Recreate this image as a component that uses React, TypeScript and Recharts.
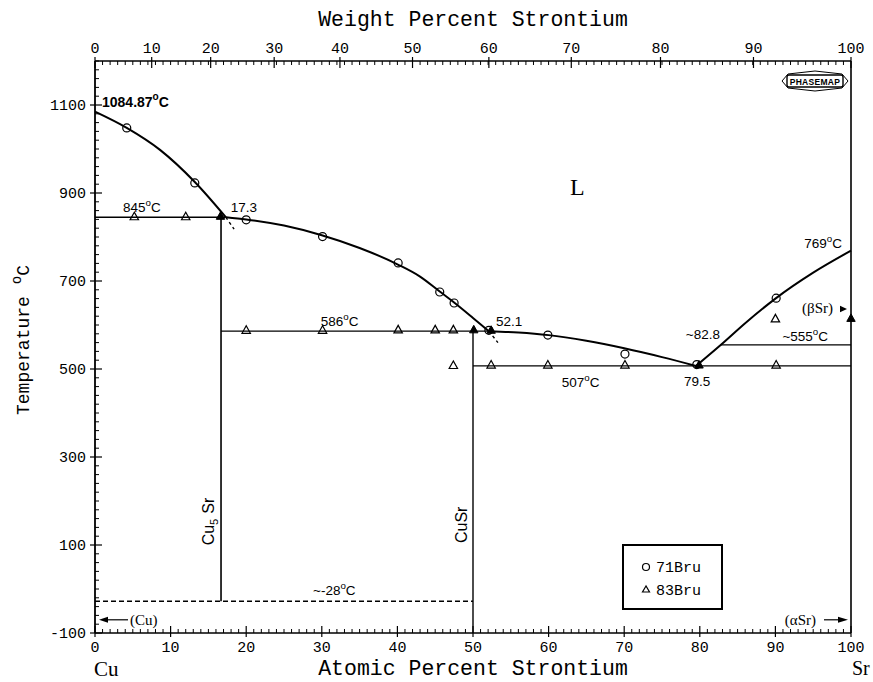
import React from "react";
import { ComposedChart, Line, Scatter, XAxis, YAxis, ReferenceDot, Legend } from "recharts";

const W = 873;
const H = 682;
// axes are 1px thick bands, so the plot area is 95..851 x 61..633
const M = { top: 60, right: 21, bottom: 48, left: 94 };

const mono = '"Liberation Mono", "DejaVu Sans Mono", monospace';
const serif = '"Liberation Serif", "DejaVu Serif", serif';
const sans = '"Liberation Sans", "DejaVu Sans", sans-serif';

// Cu-Sr system, x = at.% Sr, T = deg C
const liquidusCu = [
  { x: 0, T: 1084.87 },
  { x: 4.2, T: 1048 },
  { x: 8.6, T: 998 },
  { x: 13.2, T: 925 },
  { x: 17.3, T: 845 },
];
const liquidusMid = [
  { x: 17.3, T: 845 },
  { x: 20, T: 840 },
  { x: 25, T: 826 },
  { x: 30, T: 804 },
  { x: 35, T: 775 },
  { x: 40, T: 738 },
  { x: 43, T: 710 },
  { x: 45.6, T: 676 },
  { x: 47.5, T: 651 },
  { x: 50, T: 616 },
  { x: 52.1, T: 586 },
];
const liquidusEut = [
  { x: 52.1, T: 586 },
  { x: 56, T: 583 },
  { x: 60, T: 577 },
  { x: 65, T: 564 },
  { x: 70, T: 547 },
  { x: 75, T: 527 },
  { x: 79.5, T: 507 },
];
const liquidusSr = [
  { x: 79.5, T: 507 },
  { x: 82.8, T: 555 },
  { x: 86, T: 604 },
  { x: 90, T: 660 },
  { x: 95, T: 719 },
  { x: 100, T: 769 },
];
const iso845 = [{ x: 0, T: 845 }, { x: 17.3, T: 845 }];
const iso586 = [{ x: 16.67, T: 586 }, { x: 52.1, T: 586 }];
const iso507 = [{ x: 50, T: 507 }, { x: 100, T: 507 }];
const iso555 = [{ x: 82.8, T: 555 }, { x: 100, T: 555 }];
const isoLow = [{ x: 0, T: -28 }, { x: 50, T: -28 }];
const cu5sr = [{ x: 16.67, T: 845 }, { x: 16.67, T: -28 }];
const cusr = [{ x: 50, T: 586 }, { x: 50, T: -100 }];
const meta1 = [{ x: 17.3, T: 845 }, { x: 18.4, T: 818 }];
const meta2 = [{ x: 52.1, T: 586 }, { x: 53.3, T: 560 }];

// experimental points
const bru71 = [
  { x: 4.2, T: 1048 }, { x: 13.2, T: 923 }, { x: 20, T: 839 }, { x: 30.1, T: 801 },
  { x: 40.1, T: 741 }, { x: 45.6, T: 675 }, { x: 47.5, T: 650 }, { x: 52.1, T: 588 },
  { x: 59.9, T: 577 }, { x: 70.1, T: 534 }, { x: 79.6, T: 510 }, { x: 90.1, T: 661 },
];
const bru83 = [
  { x: 5.2, T: 846 }, { x: 12, T: 846 }, { x: 20, T: 588 }, { x: 30.1, T: 588 },
  { x: 40.1, T: 589 }, { x: 45, T: 589 }, { x: 47.4, T: 589 }, { x: 47.4, T: 508 },
  { x: 52.4, T: 509 }, { x: 59.9, T: 509 }, { x: 70.1, T: 509 }, { x: 90.1, T: 509 },
  { x: 90, T: 614 },
];
const bru83Solid = [
  { x: 16.6, T: 847 }, { x: 50.1, T: 589 }, { x: 52.4, T: 588 }, { x: 79.9, T: 509 }, { x: 100, T: 615 },
];

// axes
const atTicks = Array.from({ length: 101 }, (_, i) => i);
const wtTickPos = [0, 7.5, 15.3, 23.7, 32.4, 42, 52.1, 63, 74.8, 87.1, 100];
const wtTickLabels = ["0", "10", "20", "30", "40", "50", "60", "70", "80", "90", "100"];
const wtTicks = [...wtTickPos, ...atTicks.filter((v) => !wtTickPos.includes(v))].sort((a, b) => a - b);
const tempTicks = Array.from({ length: 66 }, (_, i) => -100 + i * 20);
const tempLabels = [-100, 100, 300, 500, 700, 900, 1100];

const ink = "#000";

function BottomTick(p: any) {
  const { x, y, payload } = p;
  const v = payload.value;
  if (v % 10 !== 0) return <line x1={x} x2={x} y1={y} y2={y - 4} stroke={ink} />;
  return (
    <g>
      <line x1={x} x2={x} y1={y + 4} y2={y - 7} stroke={ink} strokeWidth={1.2} />
      <text x={x} y={y + 19} textAnchor="middle" fontFamily={mono} fontSize={15}>{v}</text>
    </g>
  );
}

function TopTick(p: any) {
  const { x, y, payload } = p;
  const i = wtTickPos.indexOf(payload.value);
  if (i < 0) return <line x1={x} x2={x} y1={y} y2={y + 4} stroke={ink} />;
  return (
    <g>
      <line x1={x} x2={x} y1={y - 4} y2={y + 7} stroke={ink} strokeWidth={1.2} />
      <text x={x} y={y - 8} textAnchor="middle" fontFamily={mono} fontSize={15}>{wtTickLabels[i]}</text>
    </g>
  );
}

function LeftTick(p: any) {
  const { x, y, payload } = p;
  const v = payload.value;
  if (!tempLabels.includes(v)) return <line x1={x} x2={x + 4} y1={y} y2={y} stroke={ink} />;
  return (
    <g>
      <line x1={x - 5} x2={x + 7} y1={y} y2={y} stroke={ink} strokeWidth={1.2} />
      <text x={x - 9} y={y + 5} textAnchor="end" fontFamily={mono} fontSize={15}>{v}</text>
    </g>
  );
}

function RightTick(p: any) {
  const { x, y, payload } = p;
  const v = payload.value;
  if (!tempLabels.includes(v)) return <line x1={x - 4} x2={x} y1={y} y2={y} stroke={ink} />;
  return <line x1={x - 7} x2={x + 5} y1={y} y2={y} stroke={ink} strokeWidth={1.2} />;
}

function Deg({ v, fs }: { v: string; fs: number }) {
  return (
    <>
      {v}
      <tspan dy={-fs * 0.45} fontSize={fs * 0.72}>o</tspan>
      <tspan dy={fs * 0.45}>C</tspan>
    </>
  );
}

const openCircle = (p: any) => (
  <circle cx={p.cx} cy={p.cy} r={4} fill="none" stroke={ink} strokeWidth={1.2} />
);
const triPts = (cx: number, cy: number) =>
  `${cx},${cy - 4.5} ${cx - 4.2},${cy + 3} ${cx + 4.2},${cy + 3}`;
const openTri = (p: any) => (
  <polygon points={triPts(p.cx, p.cy)} fill="none" stroke={ink} strokeWidth={1.2} />
);
const solidTri = (p: any) => <polygon points={triPts(p.cx, p.cy)} fill={ink} stroke={ink} />;

const note = (id: string, x: number, T: number, draw: (cx: number, cy: number) => React.ReactElement) => (
  <ReferenceDot
    key={id}
    x={x}
    y={T}
    r={0}
    ifOverflow="visible"
    shape={(p: any) => draw(p.cx, p.cy)}
  />
);

const line = (data: any[], width = 1.3, dash?: string, curve = false, xAxisId: string | number = 0) => (
  <Line
    data={data}
    dataKey="T"
    xAxisId={xAxisId}
    type={curve ? "monotone" : "linear"}
    stroke={ink}
    strokeWidth={width}
    strokeDasharray={dash}
    dot={false}
    activeDot={false}
    isAnimationActive={false}
    legendType="none"
  />
);

export default function App() {
  const t = { fontFamily: sans, fontSize: 13.5, fill: ink } as const;
  return (
    <div style={{ position: "absolute", left: 0, top: 0, width: W, height: H, background: "#fff" }}>
      <ComposedChart width={W} height={H} margin={M}>
        <XAxis
          dataKey="x"
          type="number"
          domain={[0, 100]}
          ticks={atTicks}
          interval={0}
          height={1}
          tickSize={0}
          tickMargin={0}
          tickLine={false}
          axisLine={{ stroke: ink, strokeWidth: 1.6 }}
          tick={BottomTick}
          label={(p: any) => {
            const vb = p.viewBox || { x: 95, y: 633, width: 756 };
            return (
              <g>
                <text x={vb.x + vb.width / 2} y={vb.y + 42} textAnchor="middle" fontFamily={mono} fontSize={21.5}>
                  Atomic Percent Strontium
                </text>
                <text x={vb.x - 1} y={vb.y + 43} fontFamily={serif} fontSize={21}>Cu</text>
                <text x={vb.x + vb.width + 1} y={vb.y + 42} fontFamily={serif} fontSize={20}>Sr</text>
              </g>
            );
          }}
        />
        <XAxis
          xAxisId="top"
          orientation="top"
          dataKey="x"
          type="number"
          domain={[0, 100]}
          ticks={wtTicks}
          interval={0}
          height={1}
          tickSize={0}
          tickMargin={0}
          tickLine={false}
          axisLine={{ stroke: ink, strokeWidth: 1.6 }}
          tick={TopTick}
          label={(p: any) => {
            const vb = p.viewBox || { x: 95, y: 60, width: 756 };
            return (
              <text x={vb.x + vb.width / 2} y={vb.y - 34} textAnchor="middle" fontFamily={mono} fontSize={21.5}>
                Weight Percent Strontium
              </text>
            );
          }}
        />
        <YAxis
          dataKey="T"
          type="number"
          domain={[-100, 1200]}
          ticks={tempTicks}
          interval={0}
          width={1}
          tickSize={0}
          tickMargin={0}
          tickLine={false}
          axisLine={{ stroke: ink, strokeWidth: 1.8 }}
          tick={LeftTick}
          label={(p: any) => {
            const vb = p.viewBox || { x: 94, y: 61 };
            const x0 = vb.x - 65;
            const y0 = vb.y + 354;
            return (
              <text x={x0} y={y0} transform={`rotate(-90, ${x0}, ${y0})`} fontFamily={mono} fontSize={18}>
                Temperature
                <tspan dx={12} dy={-8} fontSize={14}>o</tspan>
                <tspan dy={8}>C</tspan>
              </text>
            );
          }}
        />
        <YAxis
          yAxisId="right"
          orientation="right"
          dataKey="T"
          type="number"
          domain={[-100, 1200]}
          ticks={tempTicks}
          interval={0}
          width={1}
          tickSize={0}
          tickMargin={0}
          tickLine={false}
          axisLine={{ stroke: ink, strokeWidth: 1.6 }}
          tick={RightTick}
        />

        {line(liquidusCu, 2, undefined, true)}
        {line(liquidusMid, 2, undefined, true)}
        {line(liquidusEut, 2, undefined, true)}
        {line(liquidusSr, 2, undefined, true)}
        {line(iso845, 1.4, undefined, false, "top")}
        {line(iso586, 1.3)}
        {line(iso507, 1.4)}
        {line(iso555, 1.3)}
        {line(cu5sr, 1.6)}
        {line(cusr, 1.4)}
        {line(isoLow, 1.6, "5 3")}
        {line(meta1, 1.4, "3 3")}
        {line(meta2, 1.4, "3 3")}

        <Scatter name="71Bru" data={bru71} shape={openCircle} isAnimationActive={false} />
        <Scatter name="83Bru" data={bru83} shape={openTri} isAnimationActive={false} />
        <Scatter name="83Bru " data={bru83Solid} shape={solidTri} isAnimationActive={false} legendType="none" />

        {note("mp", 0, 1084.87, (cx, cy) => (
          <text x={cx + 7} y={cy - 5} {...t} fontSize={14} fontWeight="bold"><Deg v="1084.87" fs={14} /></text>
        ))}
        {note("845", 0, 845, (cx, cy) => (
          <text x={cx + 28} y={cy - 5} {...t}><Deg v="845" fs={13.5} /></text>
        ))}
        {note("17.3", 17.3, 845, (cx, cy) => <text x={cx + 5} y={cy - 5} {...t}>17.3</text>)}
        {note("L", 63.8, 900, (cx, cy) => (
          <text x={cx} y={cy + 2} textAnchor="middle" fontFamily={serif} fontSize={24}>L</text>
        ))}
        {note("586", 30, 586, (cx, cy) => (
          <text x={cx - 1} y={cy - 5} {...t}><Deg v="586" fs={13.5} /></text>
        ))}
        {note("52.1", 52.1, 586, (cx, cy) => <text x={cx + 7} y={cy - 5} {...t}>52.1</text>)}
        {note("769", 100, 769, (cx, cy) => (
          <text x={cx - 9} y={cy - 3} textAnchor="end" {...t}><Deg v="769" fs={13.5} /></text>
        ))}
        {note("bSr", 100, 640, (cx, cy) => (
          <g>
            <text x={cx - 18} y={cy + 6} textAnchor="end" fontFamily={serif} fontSize={15}>(βSr)</text>
            <polygon points={`${cx - 4},${cy + 1.6} ${cx - 11},${cy - 1.6} ${cx - 11},${cy + 4.8}`} fill={ink} />
          </g>
        ))}
        {note("555", 100, 555, (cx, cy) => (
          <text x={cx - 23} y={cy - 4} textAnchor="end" {...t}><Deg v="~555" fs={13.5} /></text>
        ))}
        {note("82.8", 82.8, 555, (cx, cy) => (
          <text x={cx - 1} y={cy - 6} textAnchor="end" {...t}>~82.8</text>
        ))}
        {note("507", 62, 507, (cx, cy) => (
          <text x={cx - 2} y={cy + 21} {...t}><Deg v="507" fs={13.5} /></text>
        ))}
        {note("79.5", 79.5, 507, (cx, cy) => (
          <text x={cx + 1} y={cy + 20} textAnchor="middle" {...t}>79.5</text>
        ))}
        {note("cu5sr", 16.67, -28, (cx, cy) => {
          const x0 = cx - 7;
          const y0 = cy - 56;
          return (
            <text x={x0} y={y0} transform={`rotate(-90, ${x0}, ${y0})`} fontFamily={sans} fontSize={16}>
              Cu<tspan dy={4} fontSize={11}>5</tspan>
              <tspan dx={5} dy={-4}>Sr</tspan>
            </text>
          );
        })}
        {note("cusr", 50, -100, (cx, cy) => {
          const x0 = cx - 6;
          const y0 = cy - 90;
          return (
            <text x={x0} y={y0} transform={`rotate(-90, ${x0}, ${y0})`} fontFamily={sans} fontSize={16}>
              CuSr
            </text>
          );
        })}
        {note("m28", 25, -28, (cx, cy) => (
          <text x={cx + 29} y={cy - 6} {...t}><Deg v="~-28" fs={13.5} /></text>
        ))}
        {note("cu", 0, -70, (cx, cy) => (
          <g>
            <polygon points={`${cx + 4},${cy} ${cx + 13},${cy - 3} ${cx + 13},${cy + 3}`} fill={ink} />
            <line x1={cx + 12} x2={cx + 33} y1={cy} y2={cy} stroke={ink} strokeWidth={1.2} />
            <text x={cx + 35} y={cy + 5} fontFamily={serif} fontSize={15}>(Cu)</text>
          </g>
        ))}
        {note("aSr", 100, -70, (cx, cy) => (
          <g>
            <text x={cx - 35} y={cy + 5} textAnchor="end" fontFamily={serif} fontSize={15}>(αSr)</text>
            <line x1={cx - 27} x2={cx - 12} y1={cy} y2={cy} stroke={ink} strokeWidth={1.2} />
            <polygon points={`${cx - 3},${cy} ${cx - 13},${cy - 3} ${cx - 13},${cy + 3}`} fill={ink} />
          </g>
        ))}
        {note("logo", 100, 1200, (cx, cy) => (
          <g>
            <polygon
              points={[
                [-69, 20], [-63, 13], [-36, 10], [-9, 13], [-3, 20], [-9, 27], [-36, 30], [-63, 27],
              ].map(([a, b]) => `${cx + a},${cy + b}`).join(" ")}
              fill="#fff"
              stroke={ink}
              strokeWidth={1}
            />
            <rect x={cx - 64} y={cy + 14} width={56} height={12} rx={2} fill="#fff" stroke={ink} strokeWidth={1.4} />
            <text x={cx - 36} y={cy + 23.5} textAnchor="middle" fontFamily={sans} fontSize={8.5} fontWeight="bold" letterSpacing={0.3}>
              PHASEMAP
            </text>
          </g>
        ))}

        <Legend
          layout="vertical"
          align="center"
          verticalAlign="middle"
          wrapperStyle={{ left: 622, top: 544, width: 101, height: 66 }}
          content={() => (
            <svg width={101} height={66} style={{ display: "block" }}>
              <rect x={1} y={1} width={99} height={64} fill="#fff" stroke={ink} strokeWidth={2} />
              <circle cx={24} cy={23} r={3.5} fill="none" stroke={ink} strokeWidth={1.2} />
              <text x={34} y={28} fontFamily={mono} fontSize={15}>71Bru</text>
              <polygon points={`24,42 20.5,48 27.5,48`} fill="none" stroke={ink} strokeWidth={1.2} />
              <text x={34} y={51} fontFamily={mono} fontSize={15}>83Bru</text>
            </svg>
          )}
        />
      </ComposedChart>
    </div>
  );
}
